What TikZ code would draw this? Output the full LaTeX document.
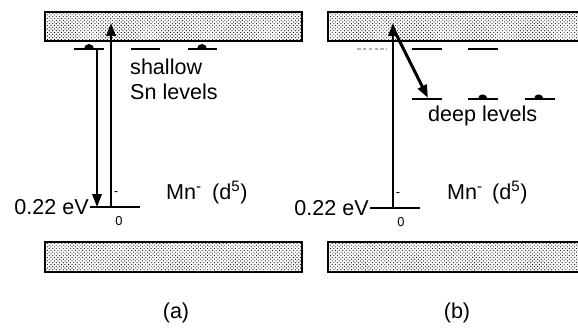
\documentclass[tikz,border=0pt]{standalone}
\usepackage{fontspec}
\setmainfont{Liberation Sans}
\usetikzlibrary{positioning, arrows.meta, patterns}

\tikzset{
  band/.style={draw, line width=1.8pt, pattern=crosshatch dots, pattern color=black},
  level/.style={line width=1.7pt},
  trans/.style={line width=1.8pt, -{Triangle[length=11pt, width=8pt]}},
  lbl/.style={font=\fontsize{18.4}{22}\selectfont, inner sep=0pt},
  small/.style={font=\fontsize{11}{12}\selectfont, inner sep=0pt},
}

\begin{document}
\begin{tikzpicture}[x=0.03cm, y=-0.03cm]
\clip (0,0) rectangle (578,333);
\fill[white] (0,0) rectangle (578,333);

% Bands
\draw[band] (45,12) rectangle (302,41);
\draw[band] (45,242) rectangle (302,272);
\draw[band] (328,12) rectangle (600,41);
\draw[band] (328,242) rectangle (600,272);

% (a) shallow Sn levels
\draw[level] (74,49) -- (104,49);
\draw[level] (131,49) -- (160,49);
\draw[level] (188,49) -- (217,49);
\fill (84,49) arc[start angle=180, end angle=0, radius=0.15cm];
\fill (197,49) arc[start angle=180, end angle=0, radius=0.15cm];
\node[lbl, anchor=base west] (shallow) at (130,74) {shallow};
\node[lbl, anchor=base west] (snlev) at (130,99) {Sn levels};

% (a) Mn level
\coordinate (mnA) at (111,207);
\coordinate (cbA) at (111,23);
\coordinate (snA) at (97,49);
\coordinate (mnAd) at (97,207);
\draw[level] (90,207) -- (140,207);
\draw[trans] (snA) -- (mnAd);
\draw[trans] (mnA) -- (cbA);
\node[lbl, anchor=east] (evA) at (89,207) {0.22 eV};
\node[small] (zeroA) at (119,221) {0};
\node[small] (dashA) at (116,194) {-};
\node[lbl, anchor=base west] (ionA) at (166,199) {Mn\textsuperscript{-}};
\node[lbl, anchor=base west] (dA) at (212,199) {(d\textsuperscript{5})};
\node[lbl] (capA) at (176,313) {(a)};

% (b) emptied shallow levels and deep levels
\draw[level, densely dashed, gray!60] (357,49) -- (387,49);
\draw[level] (412,49) -- (442,49);
\draw[level] (468,49) -- (498,49);
\draw[level] (412,99) -- (442,99);
\draw[level] (468,99) -- (498,99);
\draw[level] (525,99) -- (555,99);
\fill (478,99) arc[start angle=180, end angle=0, radius=0.14cm];
\fill (534,99) arc[start angle=180, end angle=0, radius=0.14cm];
\node[lbl, anchor=base west] (deep) at (428,121) {deep levels};

% (b) Mn level
\coordinate (mnB) at (393,208);
\coordinate (cbB) at (393,23);
\coordinate (topB) at (394,30);
\coordinate (deepB) at (428,98);
\draw[level] (370,208) -- (420,208);
\draw[trans] (mnB) -- (cbB);
\draw[trans, line width=2.6pt] (topB) -- (deepB);
\node[lbl, anchor=east] (evB) at (369,208) {0.22 eV};
\node[small] (zeroB) at (401,222) {0};
\node[small] (dashB) at (398,195) {-};
\node[lbl, anchor=base west] (ionB) at (447,199) {Mn\textsuperscript{-}};
\node[lbl, anchor=base west] (dB) at (492,199) {(d\textsuperscript{5})};
\node[lbl] (capB) at (457,313) {(b)};

\end{tikzpicture}
\end{document}
